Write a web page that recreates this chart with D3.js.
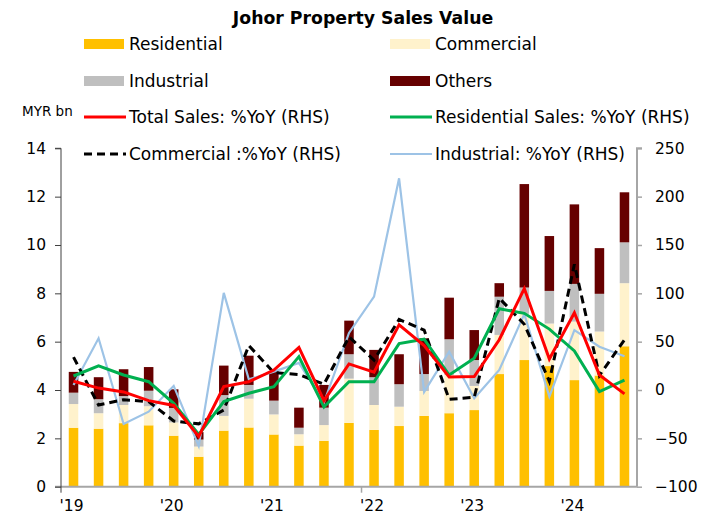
<!DOCTYPE html>
<html>
<head>
<meta charset="utf-8">
<script src="https://cdn.jsdelivr.net/npm/d3@7"></script>
<style>
  body { margin: 0; background: #fff; }
  svg { font-family: "DejaVu Sans", Verdana, sans-serif; }
</style>
</head>
<body>
<script>
// quarters Q1 2019 .. Q3 2024
var quarters = ["1Q19","2Q19","3Q19","4Q19","1Q20","2Q20","3Q20","4Q20","1Q21","2Q21","3Q21","4Q21",
                "1Q22","2Q22","3Q22","4Q22","1Q23","2Q23","3Q23","4Q23","1Q24","2Q24","3Q24"];
var yearLabels = ["'19","'20","'21","'22","'23","'24"];

// MYR bn (stacked bars)
var residential = [2.44,2.40,2.63,2.54,2.11,1.24,2.32,2.45,2.16,1.70,1.90,2.64,2.35,2.51,2.93,3.04,3.17,4.66,5.24,4.99,4.41,4.60,5.81];
var commercial  = [0.98,0.64,0.75,0.79,0.55,0.42,0.61,1.19,0.83,0.47,0.65,1.83,1.03,0.80,1.03,1.58,1.00,1.62,1.91,1.76,2.42,1.82,2.61];
var industrial  = [0.47,0.58,0.37,0.64,0.60,0.29,0.86,0.57,0.57,0.27,0.72,1.01,1.15,0.93,0.70,1.48,1.07,1.58,1.09,1.35,1.56,1.56,1.69];
var others      = [0.86,0.91,1.11,0.98,0.77,0.31,1.22,1.21,1.22,0.83,0.94,1.39,1.13,1.24,1.48,1.72,1.24,0.56,4.28,2.27,3.29,1.89,2.07];

// %YoY (RHS)
var totalYoY  = [9,2,-2,-11,-16,-48,3.5,8.6,20.7,44,-11,27,18.5,67.5,46,13.5,14,52,105,32,80,15.5,-4];
var resiYoY   = [14.5,25,15.5,8.6,-13.8,-46,-12,-3.4,3.5,34.5,-17.5,8.6,8.6,48,52.5,15.5,32.8,84,79.3,63,40.5,-1.7,10.3];
var commYoY   = [34,-15.5,-10,-12,-32,-35,-20.7,46,18,16,6,55,31,73,62,-9.7,-7.5,95,68,9,130,15,52];
var induYoY   = [5.2,53.5,-35.2,-22.4,4.3,-58,100.5,11,19,28,-13,59,96.6,219,-2,39.7,-8.6,20.7,78.5,-6.9,62,44.8,35];

var leftTicks = [0,2,4,6,8,10,12,14];
var rightTicks = [-100,-50,0,50,100,150,200,250];

var width = 721, height = 519;
var margin = {top: 148.3, right: 84, bottom: 32.3, left: 61};
var plotW = width - margin.left - margin.right,
    plotH = height - margin.top - margin.bottom;

var svg = d3.select("body").append("svg")
    .attr("width", width)
    .attr("height", height);

var barSeries = [
  {name: "Residential", values: residential, color: "#FFC000"},
  {name: "Commercial",  values: commercial,  color: "#FFF2CC"},
  {name: "Industrial",  values: industrial,  color: "#BFBFBF"},
  {name: "Others",      values: others,      color: "#660000"}
];
var lineSeries = [
  {name: "Total Sales: %YoY (RHS)",       values: totalYoY, color: "#FF0000", w: 3,   dash: null},
  {name: "Residential Sales: %YoY (RHS)", values: resiYoY,  color: "#00B050", w: 3,   dash: null},
  {name: "Commercial :%YoY (RHS)",        values: commYoY,  color: "#000000", w: 3,   dash: "8,5"},
  {name: "Industrial: %YoY (RHS)",        values: induYoY,  color: "#9DC3E6", w: 2.2, dash: null}
];

var x = d3.scaleBand()
    .domain(quarters)
    .range([margin.left, margin.left + plotW])
    .paddingInner(0.62)
    .paddingOuter(0.31);

var yL = d3.scaleLinear().domain([0, 14]).range([margin.top + plotH, margin.top]);
var yR = d3.scaleLinear().domain([-100, 250]).range([margin.top + plotH, margin.top]);

// stacked bars
var table = quarters.map(function(q, i) {
  var row = {q: q};
  barSeries.forEach(function(s) { row[s.name] = s.values[i]; });
  return row;
});
var stack = d3.stack().keys(barSeries.map(function(s) { return s.name; }));
var stacked = stack(table);

svg.append("g").selectAll("g")
  .data(stacked)
  .enter().append("g")
    .attr("fill", function(d, i) { return barSeries[i].color; })
  .selectAll("rect")
  .data(function(d) { return d; })
  .enter().append("rect")
    .attr("x", function(d) { return x(d.data.q); })
    .attr("width", x.bandwidth())
    .attr("y", function(d) { return yL(d[1]); })
    .attr("height", function(d) { return yL(d[0]) - yL(d[1]); });

// axes
var bottomY = margin.top + plotH;

svg.append("line")
    .attr("x1", margin.left - 6).attr("x2", margin.left + plotW)
    .attr("y1", bottomY).attr("y2", bottomY)
    .attr("stroke", "#a6a6a6").attr("stroke-width", 2);

// one tick between '21 and '22
var tickX = x(quarters[12]) - x.step() * x.paddingInner() / 2;
svg.append("line")
    .attr("x1", tickX).attr("x2", tickX)
    .attr("y1", bottomY).attr("y2", bottomY + 6)
    .attr("stroke", "#a6a6a6").attr("stroke-width", 1.5);

var leftAxis = svg.append("g")
    .attr("transform", "translate(" + margin.left + ",0)")
    .call(d3.axisLeft(yL).tickValues(leftTicks).tickSize(6).tickPadding(9));
leftAxis.select(".domain").attr("stroke", "#404040").attr("d", "M-6," + yL(14) + "H0V" + (bottomY + 6));
leftAxis.selectAll(".tick line").attr("stroke", "#404040");

var rightAxis = svg.append("g")
    .attr("transform", "translate(" + (margin.left + plotW) + ",0)")
    .call(d3.axisRight(yR).tickValues(rightTicks).tickSize(5).tickPadding(13));
rightAxis.select(".domain").attr("stroke", "#a6a6a6").attr("stroke-width", 2)
    .attr("d", "M5," + yR(250) + "H0V" + bottomY);
rightAxis.selectAll(".tick line").attr("stroke", "#a6a6a6").attr("stroke-width", 1.5);

svg.selectAll(".tick text")
    .attr("font-family", "DejaVu Sans, sans-serif")
    .attr("font-size", "15.5px")
    .attr("fill", "#000");

// year labels under Q1 bars
svg.append("g").selectAll("text")
  .data(yearLabels)
  .enter().append("text")
    .attr("x", function(d, i) { return x(quarters[i * 4]) + x.bandwidth() / 2 - 2; })
    .attr("y", 511)
    .attr("text-anchor", "middle")
    .attr("font-size", "15.5px")
    .text(function(d) { return d; });

// YoY lines
var line = d3.line()
    .x(function(d, i) { return x(quarters[i]) + x.bandwidth() / 2; })
    .y(function(d) { return yR(d); });

// draw blue first, then black, green, red on top
[3, 2, 1, 0].forEach(function(k) {
  var s = lineSeries[k];
  svg.append("path")
      .datum(s.values)
      .attr("fill", "none")
      .attr("stroke", s.color)
      .attr("stroke-width", s.w)
      .attr("stroke-linejoin", "miter")
      .attr("stroke-dasharray", s.dash)
      .attr("d", line);
});

// title
svg.append("text")
    .attr("x", 363)
    .attr("y", 24)
    .attr("text-anchor", "middle")
    .attr("font-size", "17.3px")
    .attr("font-weight", "bold")
    .text("Johor Property Sales Value");

svg.append("text")
    .attr("x", 22)
    .attr("y", 116)
    .attr("font-size", "13.5px")
    .text("MYR bn");

// legend
var legendCols = [84, 390], legendRows = [44, 81, 117, 154];
var legendItems = [
  {s: barSeries[0], bar: true}, {s: barSeries[1], bar: true},
  {s: barSeries[2], bar: true}, {s: barSeries[3], bar: true},
  {s: lineSeries[0]}, {s: lineSeries[1]},
  {s: lineSeries[2]}, {s: lineSeries[3]}
];

var leg = svg.append("g").selectAll("g")
  .data(legendItems)
  .enter().append("g")
    .attr("transform", function(d, i) {
      return "translate(" + legendCols[i % 2] + "," + legendRows[Math.floor(i / 2)] + ")";
    });

leg.filter(function(d) { return d.bar; })
  .append("rect")
    .attr("x", 0).attr("y", -5)
    .attr("width", 40).attr("height", 10)
    .attr("fill", function(d) { return d.s.color; });

leg.filter(function(d) { return !d.bar; })
  .append("line")
    .attr("x1", 0).attr("x2", 42)
    .attr("y1", 0).attr("y2", 0)
    .attr("stroke", function(d) { return d.s.color; })
    .attr("stroke-width", function(d) { return d.s.w; })
    .attr("stroke-dasharray", function(d) { return d.s.dash; });

leg.append("text")
    .attr("x", 45)
    .attr("y", 6)
    .attr("font-size", "17px")
    .text(function(d) { return d.s.name; });
</script>
</body>
</html>
